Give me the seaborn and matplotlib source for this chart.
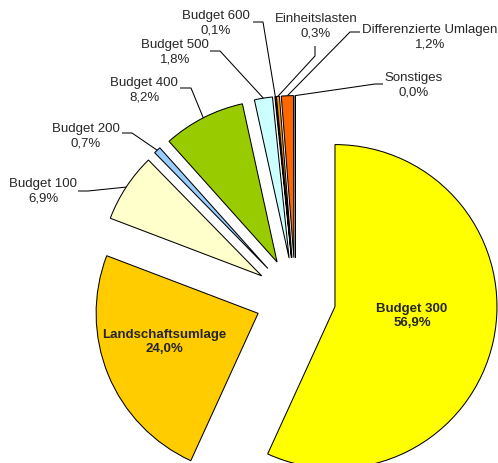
import matplotlib
matplotlib.use("Agg")
import matplotlib.pyplot as plt
import seaborn as sns
import numpy as np

# ---- data ----
categories = ["Budget 300", "Landschaftsumlage", "Budget 100", "Budget 200",
              "Budget 400", "Budget 500", "Budget 600", "Einheitslasten",
              "Differenzierte Umlagen", "Sonstiges"]
shares = [56.9, 24.0, 6.9, 0.7, 8.2, 1.8, 0.1, 0.3, 1.2, 0.04]
colors = ["#FFFF00", "#FFCC00", "#FFFFCC", "#99CCFF", "#99CC00",
          "#CCFFFF", "#0066CC", "#FF9900", "#FF6600", "#969696"]

sns.set_style("white")
plt.rcParams['font.family'] = ['Liberation Sans', 'DejaVu Sans']

W, H = 498, 464
fig = plt.figure(figsize=(W / 100, H / 100), dpi=100)
ax = fig.add_axes([0, 0, 1, 1])


def P(x, y):
    return (x, H - y)


center = P(295.5, 299)
R = 162
expl = 40.4
wedges, _ = ax.pie(shares, colors=colors, startangle=90, counterclock=False,
                   radius=R, center=center, explode=[expl] * len(shares),
                   wedgeprops=dict(edgecolor='black', linewidth=0.75),
                   frame=True)
ax.set_xlim(0, W)
ax.set_ylim(0, H)
ax.set_aspect('equal')
ax.axis('off')


def fmt(name, v):
    return f"{name}\n{v:.1f}%".replace('.', ',')


FS = 9.5
LS = 1.32
# inside labels (bold)
inside = {"Budget 300": (412, 316), "Landschaftsumlage": (164, 342)}
# outside labels: text center, stub start, stub end
outside = {
    "Budget 100": ((43, 191), (78, 192), (88, 192)),
    "Budget 200": ((86, 136), (122, 134), (132, 134)),
    "Budget 400": ((144, 90), (180, 89), (191, 89)),
    "Budget 500": ((175, 52), (210, 52), (220, 52)),
    "Budget 600": ((216, 23), (253, 23), (263, 23)),
    "Einheitslasten": ((316, 26), (315, 47), (315, 57)),
    "Differenzierte Umlagen": ((430, 37), (360, 33), (350, 33)),
    "Sonstiges": ((414, 85), (383, 85), (375, 85)),
}

for name, v, w in zip(categories, shares, wedges):
    if name in inside:
        ax.text(*P(*inside[name]), fmt(name, v), ha='center', va='center',
                fontsize=FS, fontweight='bold', linespacing=LS,
                multialignment='center')
    else:
        tpos, s0, s1 = outside[name]
        ax.text(*P(*tpos), fmt(name, v), ha='center', va='center',
                fontsize=FS, linespacing=LS, multialignment='center')
        mid = np.deg2rad((w.theta1 + w.theta2) / 2)
        cx, cy = w.center
        ax_pt = (cx + w.r * np.cos(mid), cy + w.r * np.sin(mid))
        xs = [P(*s0)[0], P(*s1)[0], ax_pt[0]]
        ys = [P(*s0)[1], P(*s1)[1], ax_pt[1]]
        ax.plot(xs, ys, color='black', lw=0.75, solid_capstyle='butt')

fig.savefig("out.png", dpi=100, facecolor='white')
